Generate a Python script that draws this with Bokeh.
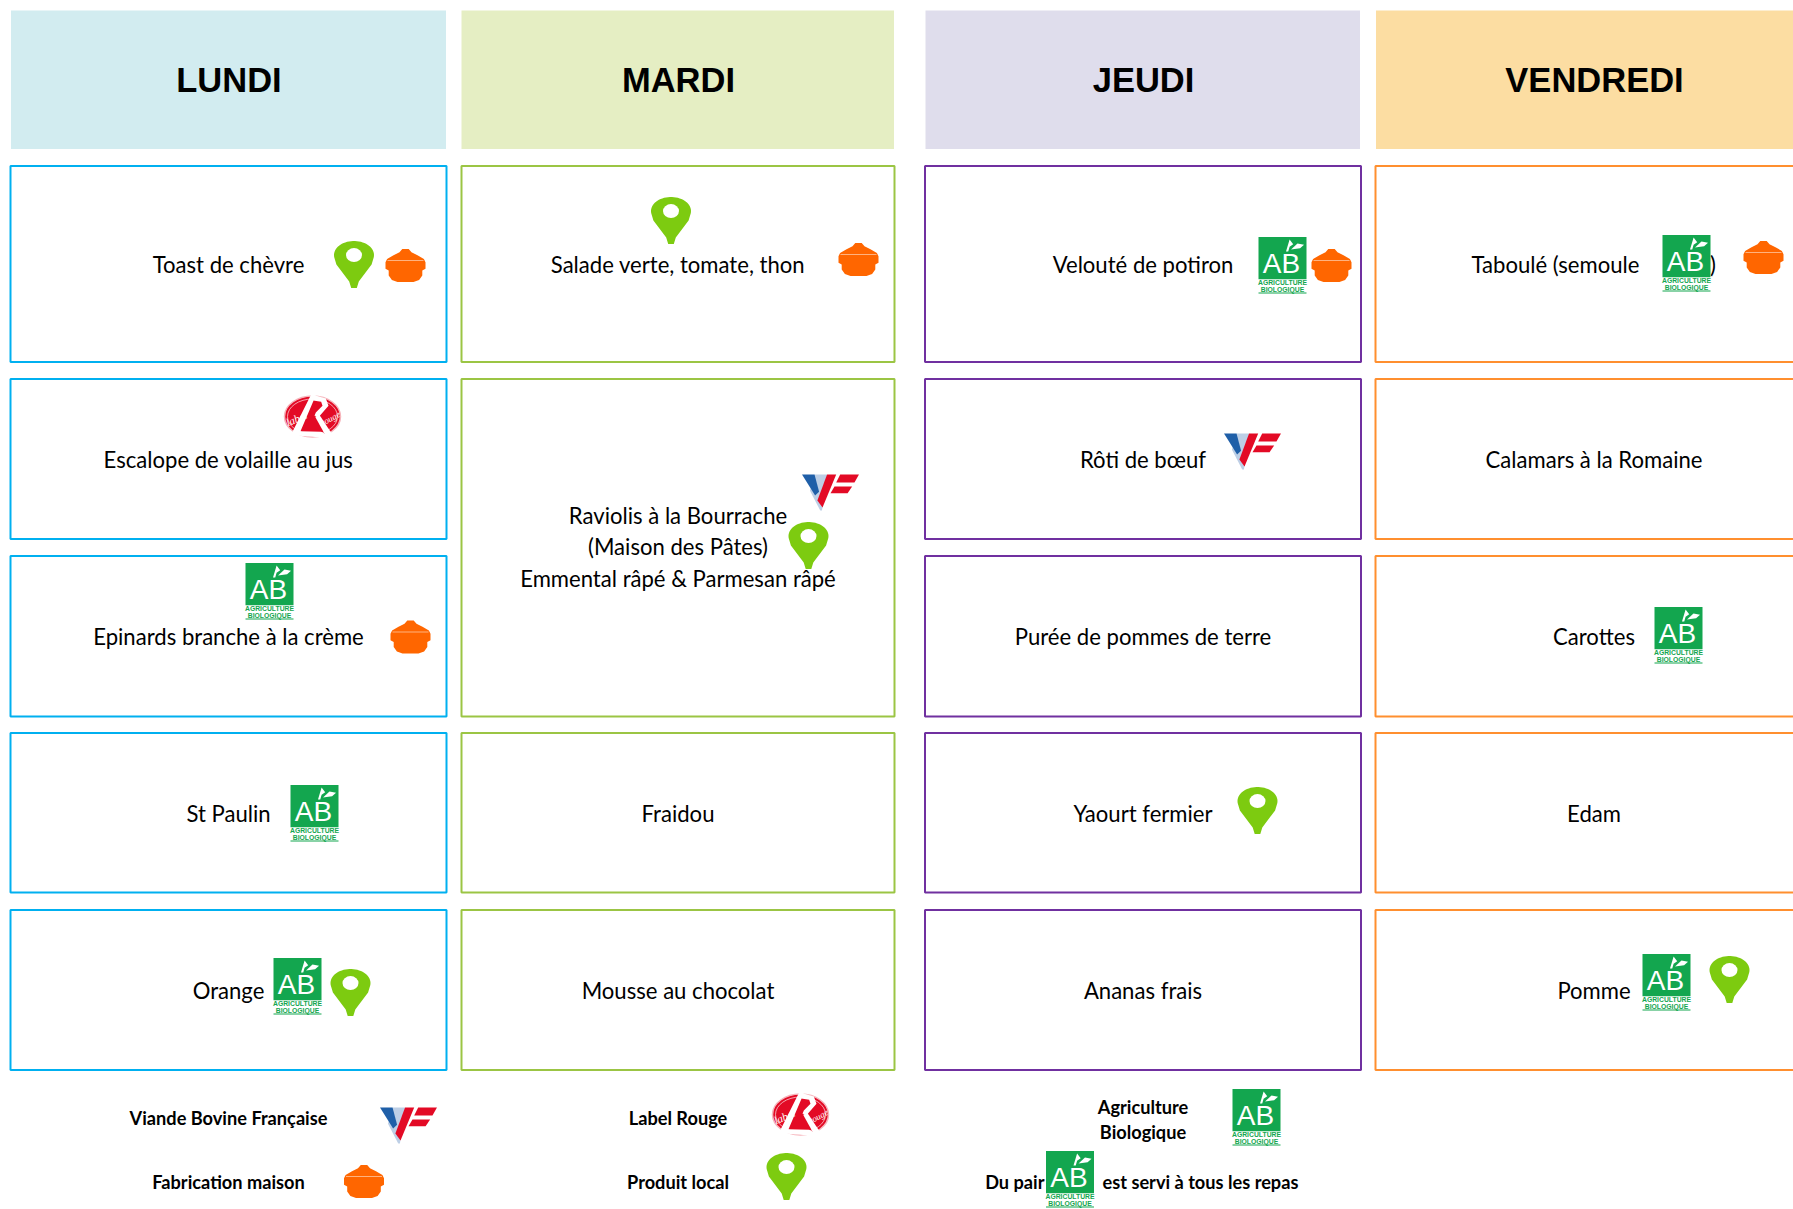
import numpy as np
from bokeh.plotting import figure
from bokeh.models import Range1d
from bokeh.core.properties import value
from bokeh.embed import file_html
from bokeh.resources import INLINE

# ---------------- content ----------------
days = ["LUNDI", "MARDI", "JEUDI", "VENDREDI"]
header_colors = ["#D2ECF0", "#E5EEC3", "#DFDDEC", "#FCDDA2"]
border_colors = ["#00B0F0", "#9BC544", "#7030A0", "#FF8F2F"]

lundi = ["Toast de chèvre", "Escalope de volaille au jus", "Epinards branche à la crème", "St Paulin", "Orange"]
mardi = ["Salade verte, tomate, thon", "Raviolis à la Bourrache\n(Maison des Pâtes)\nEmmental râpé & Parmesan râpé", None, "Fraidou", "Mousse au chocolat"]
jeudi = ["Velouté de potiron", "Rôti de bœuf", "Purée de pommes de terre", "Yaourt fermier", "Ananas frais"]
vendredi = [None, "Calamars à la Romaine", "Carottes", "Edam", "Pomme"]
menu = [lundi, mardi, jeudi, vendredi]

legend_labels = ["Viande Bovine Française", "Label Rouge", "Agriculture\nBiologique", "Fabrication maison", "Produit local"]
note_parts = ["Du pair", "est servi à tous les repas"]
taboule_parts = ["Taboulé (semoule", ")"]

# ---------------- layout (screen pixels) ----------------
W, H = 1793, 1209
col_edges = [(10, 446), (461, 894), (924.5, 1360.5), (1375, 1814)]
head_edges = [(10.5, 445.5), (461, 893.5), (925, 1359.5), (1375.5, 1814)]
row_edges = [(165.5, 361.5), (378.5, 538.5), (555.5, 716), (732.5, 892), (909.5, 1069.5)]
row_text_y = [264.5, 459.5, 636.5, 813.5, 990.5]
col_text_x = [228, 677.5, 1142.5, 1593.5]

FONT = "Lato"
HEAD_FONT = "Liberation Sans"
BODY_SIZE = "22.1px"
GREEN = "#13A64F"
PIN = "#7DCB10"
POT = "#FF6600"
RED = "#E30A25"
BLUE = "#1F5FA8"

placements = [
    ("pin", 353.5, 264), ("pot", 405, 265),
    ("pin", 670.5, 220), ("pot", 858, 259),
    ("ab", 1282, 265), ("pot", 1331, 265),
    ("ab", 1686, 263), ("pot", 1763, 257),
    ("lr", 312, 417), ("vf", 830, 492), ("pin", 808, 545), ("vf", 1252, 451),
    ("ab", 269, 591), ("pot", 410, 636.5), ("ab", 1678, 635),
    ("ab", 314, 813), ("pin", 1257, 810),
    ("ab", 297, 986), ("pin", 350, 992), ("ab", 1666, 982), ("pin", 1729, 979),
    ("vf", 408, 1125), ("lr", 800, 1115), ("ab", 1256, 1117),
    ("pot", 363.5, 1181), ("pin", 786, 1176), ("ab", 1069.5, 1179),
]

p = figure(width=W, height=H, output_backend="svg", toolbar_location=None,
           x_range=Range1d(0, W), y_range=Range1d(H, 0),
           min_border=0, outline_line_color=None, background_fill_color="white")
p.xaxis.visible = False
p.yaxis.visible = False
p.xgrid.visible = False
p.ygrid.visible = False

# headers
for (l, r), c, d, x in zip(head_edges, header_colors, days, col_text_x):
    p.quad(left=l, right=r, top=10, bottom=148.5, fill_color=c, line_color=None)
    p.text(x=[x + 0.5], y=[79], text=[d], text_font=value(HEAD_FONT), text_font_style="bold",
           text_font_size="34.5px", text_align="center", text_baseline="middle", text_color="black")

def body(x, y, s, align="center"):
    p.text(x=[x], y=[y - 1], text=[s], text_font=value(FONT), text_font_size=BODY_SIZE,
           text_align=align, text_baseline="middle", text_color="black")

# cells
for ci, col in enumerate(menu):
    l, r = col_edges[ci]
    c = border_colors[ci]
    ri = 0
    while ri < 5:
        top, bot = row_edges[ri]
        if ci == 1 and ri == 1:
            bot = row_edges[2][1]
        p.quad(left=l, right=r, top=top, bottom=bot, fill_color="white", line_color=c, line_width=2)
        label = col[ri]
        if label and "\n" in label:
            for line, yy in zip(label.split("\n"), [516, 547, 578.5]):
                body(col_text_x[ci], yy, line)
            ri += 2
            continue
        if label:
            body(col_text_x[ci], row_text_y[ri], label)
        ri += 1

# split label under the AB logo
for s, x in zip(taboule_parts, [1471, 1709.5]):
    body(x, 264.5, s, "left")

# legend text
def bold(x, y, s, align="center"):
    p.text(x=[x], y=[y - 1], text=[s], text_font=value(FONT), text_font_style="bold", text_font_size="18.2px",
           text_align=align, text_baseline="middle", text_color="black")

bold(228, 1118, legend_labels[0])
bold(677.5, 1118, legend_labels[1])
a, b = legend_labels[2].split("\n")
bold(1142.5, 1107, a)
bold(1142.5, 1132, b)
bold(228, 1182, legend_labels[3])
bold(677.5, 1182, legend_labels[4])
bold(1044, 1182, note_parts[0], "right")
bold(1102, 1182, note_parts[1], "left")

# icons
def poly(cx, cy, w, h, pts, color):
    a = np.array(pts, dtype=float)
    p.patch(cx + a[:, 0] * w, cy + a[:, 1] * h, fill_color=color, line_color=None)

def pin(cx, cy):
    w, h = 40, 47
    t = np.radians(np.linspace(170, 370, 36))
    rx, ry = 0.5, 0.30
    yc = -0.5 + ry
    pts = [(rx * np.cos(a), yc + ry * np.sin(a)) for a in t]
    pts += [(0.44, 0.0), (0.12, 0.36), (0.07, 0.5), (-0.07, 0.5), (-0.12, 0.36), (-0.44, 0.0)]
    poly(cx, cy, w, h, pts, PIN)
    p.ellipse(x=[cx], y=[cy + yc * h], width=16, height=14, fill_color="white", line_color=None)

def pot(cx, cy):
    w, h = 40, 33
    pts = [(-0.08, -0.5), (0.08, -0.5), (0.15, -0.4), (0.3, -0.31), (0.46, -0.2),
           (0.5, -0.1), (0.5, 0.1), (0.42, 0.15), (0.42, 0.3),
           (0.34, 0.44), (0.2, 0.5), (-0.2, 0.5), (-0.34, 0.44), (-0.42, 0.3), (-0.42, 0.15),
           (-0.5, 0.1), (-0.5, -0.1), (-0.46, -0.2),
           (-0.3, -0.31), (-0.15, -0.4)]
    poly(cx, cy, w, h, pts, POT)
    p.segment(x0=[cx - 18], y0=[cy - 5], x1=[cx + 18], y1=[cy - 5], line_color="#FFB27F", line_width=1)

def ab(cx, cy):
    w, h = 48, 57
    p.quad(left=cx - w / 2, right=cx + w / 2, top=cy - h / 2, bottom=cy + h * 0.24, fill_color=GREEN, line_color=None)
    p.text(x=[cx - 1], y=[cy - 2], text=["AB"], text_font=value("Liberation Sans"),
           text_font_size="28px", text_align="center", text_baseline="middle", text_color="white")
    poly(cx + 8, cy - 20, 9, 12, [(-0.5, 0.5), (-0.1, -0.5), (0.3, -0.1), (-0.1, 0.1), (-0.25, 0.5)], "white")
    poly(cx + 15, cy - 19, 13, 6, [(-0.5, 0.5), (0.0, -0.5), (0.5, -0.3), (0.2, 0.3)], "white")
    for s, yy in zip(["AGRICULTURE", "BIOLOGIQUE"], [cy + 17, cy + 24]):
        p.text(x=[cx], y=[yy], text=[s], text_font=value("Liberation Sans"), text_font_style="bold",
               text_font_size="6.8px", text_align="center", text_baseline="middle", text_color=GREEN)
    p.segment(x0=[cx - w / 2], y0=[cy + 27.5], x1=[cx + w / 2], y1=[cy + 27.5], line_color=GREEN, line_width=1)

def lr(cx, cy):
    w, h = 56, 44
    def art(pts, color="white"):
        poly(cx, cy, w, h, [((x - 106) / 168, (y - 87) / 132) for x, y in pts], color)
    p.ellipse(x=[cx], y=[cy - 1], width=w, height=41, fill_color=RED, line_color="#F6B5BC", line_width=1.5)
    p.ellipse(x=[cx], y=[cy - 1], width=w - 6, height=35, fill_color=None, line_color="#F9C9CE", line_width=0.8)
    art([(102, 18), (116, 20), (70, 128), (132, 130), (172, 150), (48, 140), (46, 130)])
    art([(114, 85), (126, 78), (172, 148), (150, 150)])
    art([(112, 20), (146, 30), (154, 52), (126, 84), (112, 82), (116, 72), (136, 52), (132, 40), (108, 36)])
    p.text(x=[cx - 16], y=[cy + 1], text=["label"], text_font=value("Liberation Serif"), text_font_style="italic",
           text_font_size="11px", text_align="center", text_baseline="middle", text_color="white", angle=0.4)
    p.text(x=[cx + 18], y=[cy + 1], text=["rouge"], text_font=value("Liberation Serif"), text_font_style="italic",
           text_font_size="9px", text_align="center", text_baseline="middle", text_color="white", angle=0.5)

def vf(cx, cy):
    w, h = 57, 36
    poly(cx, cy, w, h, [(-0.28, -0.5), (-0.06, -0.5), (-0.15, 0.5), (-0.18, 0.5), (-0.36, -0.05)], "#BDCFE6")
    poly(cx, cy, w, h, [(-0.5, -0.5), (-0.28, -0.5), (-0.2, -0.02), (-0.27, 0.08)], BLUE)
    poly(cx, cy, w, h, [(-0.06, -0.5), (0.1, -0.5), (-0.14, 0.42), (-0.23, 0.22)], RED)
    poly(cx, cy, w, h, [(0.17, -0.5), (0.5, -0.5), (0.42, -0.28), (0.1, -0.28)], RED)
    poly(cx, cy, w, h, [(0.07, -0.17), (0.38, -0.17), (0.3, 0.02), (0.0, 0.02)], RED)

icons = {"pin": pin, "pot": pot, "ab": ab, "lr": lr, "vf": vf}
for kind, x, y in placements:
    icons[kind](x, y)

open("out.html", "w").write(file_html(p, INLINE))
